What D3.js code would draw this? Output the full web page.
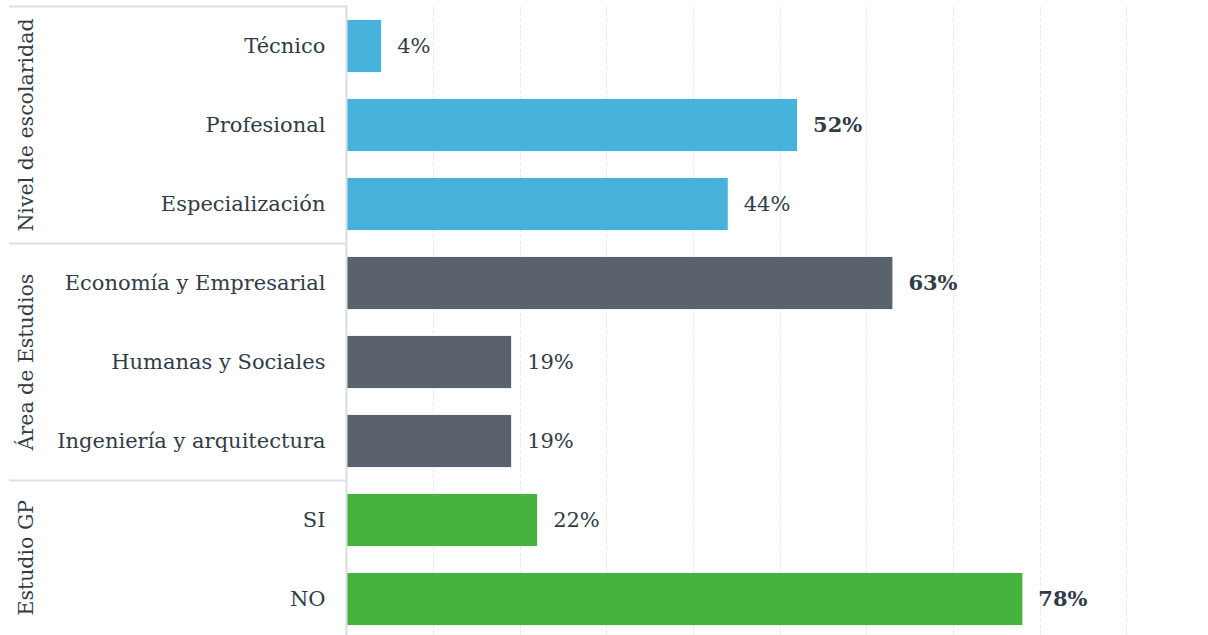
<!DOCTYPE html>
<html>
<head>
<meta charset="utf-8">
<script src="https://cdn.jsdelivr.net/npm/d3@7"></script>
<style>
  html, body { margin: 0; padding: 0; background: #ffffff; }
  svg { display: block; }
  text { font-family: "DejaVu Serif", Georgia, serif; fill: #313c48; }
</style>
</head>
<body>
<svg id="chart" width="1208" height="635"></svg>
<script>
// Categories, grouped, top to bottom
const categories = [
  "Técnico", "Profesional", "Especialización",
  "Economía y Empresarial", "Humanas y Sociales", "Ingeniería y arquitectura",
  "SI", "NO"
];
const groupOf = [0, 0, 0, 1, 1, 1, 2, 2];
const groups = ["Nivel de escolaridad", "Área de Estudios", "Estudio GP"];
const groupColors = ["#47b3dd", "#5a636d", "#47b33f"];
// Share of respondents (%)
const values = [4, 52, 44, 63, 19, 19, 22, 78];
// Values highlighted in bold (largest in each group)
const emphasis = [false, true, false, true, false, false, false, true];
const xTicks = [0, 10, 20, 30, 40, 50, 60, 70, 80, 90, 100];

const svg = d3.select("#chart");
const plotLeft = 346.5;
const plotTop = 6.5;
const step = 79;

const x = d3.scaleLinear().domain([0, 100]).range([plotLeft, plotLeft + 866.5]);
const y = d3.scaleBand().domain(categories)
  .range([plotTop, plotTop + step * categories.length])
  .paddingInner(0.34).paddingOuter(0.17);

// Vertical dashed gridlines
svg.append("g")
  .selectAll("line")
  .data(xTicks.slice(1))
  .join("line")
  .attr("x1", d => Math.round(x(d)) + 0.5)
  .attr("x2", d => Math.round(x(d)) + 0.5)
  .attr("y1", plotTop)
  .attr("y2", 635)
  .attr("stroke", "#e8e9ec")
  .attr("stroke-width", 1)
  .attr("stroke-dasharray", "4,2");

// Bars
svg.append("g")
  .selectAll("rect")
  .data(categories)
  .join("rect")
  .attr("x", x(0))
  .attr("y", d => y(d))
  .attr("width", (d, i) => x(values[i]) - x(0))
  .attr("height", y.bandwidth())
  .attr("fill", (d, i) => groupColors[groupOf[i]]);

// Value labels
svg.append("g")
  .selectAll("text")
  .data(categories)
  .join("text")
  .attr("x", (d, i) => x(values[i]) + 16)
  .attr("y", d => y(d) + y.bandwidth() / 2)
  .attr("dy", "0.35em")
  .attr("font-size", 21)
  .attr("font-weight", (d, i) => emphasis[i] ? "bold" : "normal")
  .text((d, i) => values[i] + "%");

// Category axis labels
const yAxis = d3.axisLeft(y).tickSize(0).tickPadding(21);
const ag = svg.append("g").attr("transform", `translate(${plotLeft},0)`).call(yAxis);
ag.select(".domain").remove();
ag.selectAll("text")
  .attr("font-size", 21)
  .attr("font-family", "\"DejaVu Serif\", Georgia, serif")
  .attr("fill", "#313c48");

// Group frame: separators and left panel divider
const groupBounds = groups.map((g, gi) => {
  const members = categories.filter((c, i) => groupOf[i] === gi);
  const top = y(members[0]) - y.step() * y.paddingInner() / 2;
  const bottom = y(members[members.length - 1]) + y.bandwidth() + y.step() * y.paddingInner() / 2;
  return { name: g, top, bottom };
});

const frame = svg.append("g").attr("stroke", "#dcdee6").attr("stroke-width", 2);
groupBounds.forEach(b => {
  frame.append("line")
    .attr("x1", 9).attr("x2", plotLeft)
    .attr("y1", b.top).attr("y2", b.top);
});
frame.append("line")
  .attr("x1", plotLeft).attr("x2", plotLeft)
  .attr("y1", groupBounds[0].top - 1).attr("y2", 635);

// Rotated group titles
svg.append("g")
  .selectAll("text")
  .data(groupBounds)
  .join("text")
  .attr("transform", d => `translate(26,${(d.top + Math.min(d.bottom, 635)) / 2}) rotate(-90)`)
  .attr("text-anchor", "middle")
  .attr("dy", "0.35em")
  .attr("font-size", 20.5)
  .text(d => d.name);
</script>
</body>
</html>
